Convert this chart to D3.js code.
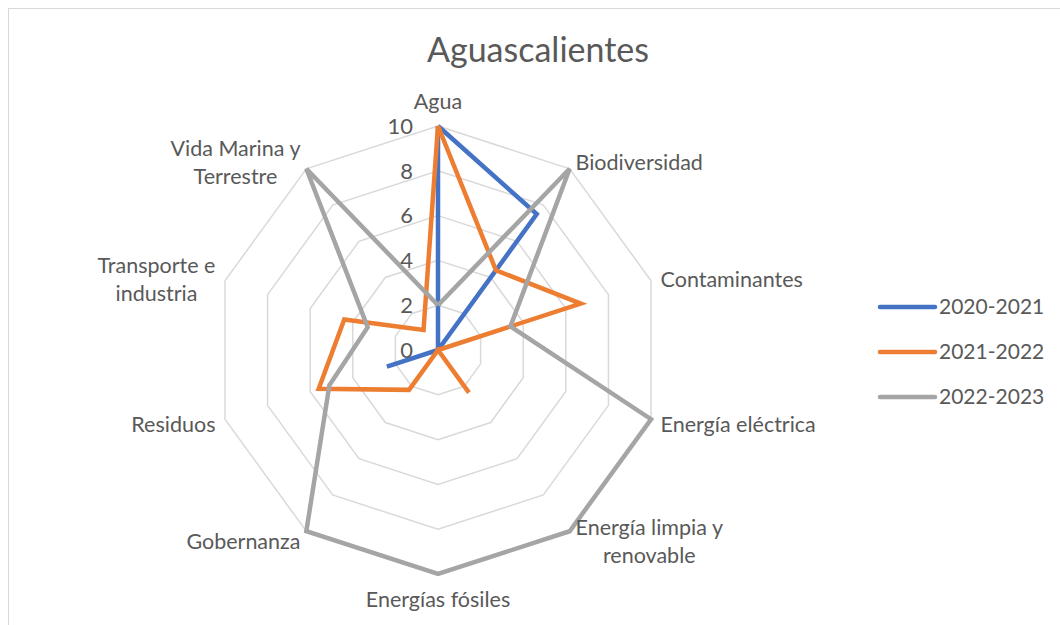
<!DOCTYPE html>
<html>
<head>
<meta charset="utf-8">
<script src="https://cdn.jsdelivr.net/npm/d3@7"></script>
<style>
  body { margin: 0; background: #fff; }
  text { font-family: Lato, "Open Sans", sans-serif; fill: #595959; }
</style>
</head>
<body>
<div id="chart"></div>
<script>
// data
var categories = [ 'Agua', 'Biodiversidad', 'Contaminantes', 'Energía eléctrica',
	'Energía limpia y\nrenovable', 'Energías fósiles', 'Gobernanza', 'Residuos',
	'Transporte e\nindustria', 'Vida Marina y\nTerrestre' ];
var seriesNames = [ '2020-2021', '2021-2022', '2022-2023' ];
var values2020 = [ 10, 7.5, 0, 0, 0, 0, 0, 2.4, null, 0 ];
var values2021 = [ 10, 4.4, 6.7, 0, 2.35, 0, 2.2, 5.6, 4.4, 1.1 ];
var values2022 = [ 2, 10, 3.4, 10, 10, 10, 10, 5.1, 3.3, 10 ];
var tickValues = [ 0, 2, 4, 6, 8, 10 ];
var colors = [ '#4472C4', '#ED7D31', '#A5A5A5' ];

var W = 1060, H = 625;
var cx = 438, cy = 350, R = 224;

var svg = d3.select( '#chart' ).append( 'svg' )
	.attr( 'width', W )
	.attr( 'height', H );

// chart border
svg.append( 'rect' )
	.attr( 'x', 8.5 ).attr( 'y', 8.5 )
	.attr( 'width', W ).attr( 'height', H )
	.attr( 'fill', 'none' )
	.attr( 'stroke', '#d9d9d9' )
	.attr( 'stroke-width', 1 );

svg.append( 'text' )
	.attr( 'x', 538 )
	.attr( 'y', 62 )
	.attr( 'text-anchor', 'middle' )
	.attr( 'font-size', '34px' )
	.text( 'Aguascalientes' );

var n = categories.length;
var angle = d3.scaleLinear().domain( [ 0, n ] ).range( [ 0, 2 * Math.PI ] );
var rScale = d3.scaleLinear().domain( [ 0, 10 ] ).range( [ 0, R ] );

var g = svg.append( 'g' ).attr( 'transform', 'translate(' + cx + ',' + cy + ')' );

// grid rings
var ring = d3.lineRadial()
	.angle( function( d, i ) { return angle( i ); } )
	.radius( function( d ) { return rScale( d ); } )
	.curve( d3.curveLinearClosed );

g.selectAll( '.ring' )
	.data( tickValues.filter( function( t ) { return t > 0; } ) )
	.enter()
	.append( 'path' )
	.attr( 'class', 'ring' )
	.attr( 'd', function( t ) { return ring( categories.map( function() { return t; } ) ); } )
	.attr( 'fill', 'none' )
	.attr( 'stroke', '#d9d9d9' )
	.attr( 'stroke-width', 1.5 );

// series
var line = d3.lineRadial()
	.defined( function( d ) { return d != null; } )
	.angle( function( d, i ) { return angle( i ); } )
	.radius( function( d ) { return rScale( d ); } );

var allSeries = [ values2020, values2021, values2022 ];
g.selectAll( '.series' )
	.data( allSeries )
	.enter()
	.append( 'path' )
	.attr( 'class', 'series' )
	.attr( 'd', function( d ) { return line( d.concat( [ d[ 0 ] ] ) ); } )
	.attr( 'fill', 'none' )
	.attr( 'stroke', function( d, i ) { return colors[ i ]; } )
	.attr( 'stroke-width', 4.5 )
	.attr( 'stroke-linejoin', 'miter' )
	.attr( 'stroke-linecap', 'butt' );

// tick labels
g.selectAll( '.tick' )
	.data( tickValues )
	.enter()
	.append( 'text' )
	.attr( 'class', 'tick' )
	.attr( 'x', -25 )
	.attr( 'y', function( t ) { return -rScale( t ); } )
	.attr( 'dy', '0.35em' )
	.attr( 'text-anchor', 'end' )
	.attr( 'font-size', '22px' )
	.text( function( t ) { return t; } );

// category labels
var lh = 28;
categories.forEach( function( c, i ) {
	var a = angle( i );
	var s = Math.sin( a ), co = Math.cos( a );
	var px = s * ( R + 10 ), py = -co * ( R + 10 );
	var lines = c.split( '\n' );
	var side = Math.abs( s ) < 0.1 ? 0 : ( s > 0 ? 1 : -1 );
	var cyBlock = side === 0 ? py - co * 15 : py + 2;
	var t = g.append( 'text' ).attr( 'font-size', '21.5px' );
	var spans = lines.map( function( l, k ) {
		return t.append( 'tspan' )
			.attr( 'y', cyBlock + ( k - ( lines.length - 1 ) / 2 ) * lh )
			.attr( 'dy', '0.35em' )
			.text( l );
	} );
	var wMax = d3.max( spans, function( sp ) { return sp.node().getComputedTextLength(); } );
	var mid = side === 0 ? px : ( side > 0 ? px + wMax / 2 : px - wMax / 2 );
	spans.forEach( function( sp ) {
		sp.attr( 'x', mid ).attr( 'text-anchor', 'middle' );
	} );
} );

// legend
var legend = svg.selectAll( '.legend' )
	.data( seriesNames )
	.enter()
	.append( 'g' )
	.attr( 'class', 'legend' )
	.attr( 'transform', function( d, i ) { return 'translate(880,' + ( 307 + i * 45 ) + ')'; } );

legend.append( 'line' )
	.attr( 'x1', 0 ).attr( 'x2', 55 )
	.attr( 'stroke', function( d, i ) { return colors[ i ]; } )
	.attr( 'stroke-width', 4.5 )
	.attr( 'stroke-linecap', 'round' );

legend.append( 'text' )
	.attr( 'x', 59 )
	.attr( 'dy', '0.35em' )
	.attr( 'font-size', '21px' )
	.text( function( d ) { return d; } );
</script>
</body>
</html>
